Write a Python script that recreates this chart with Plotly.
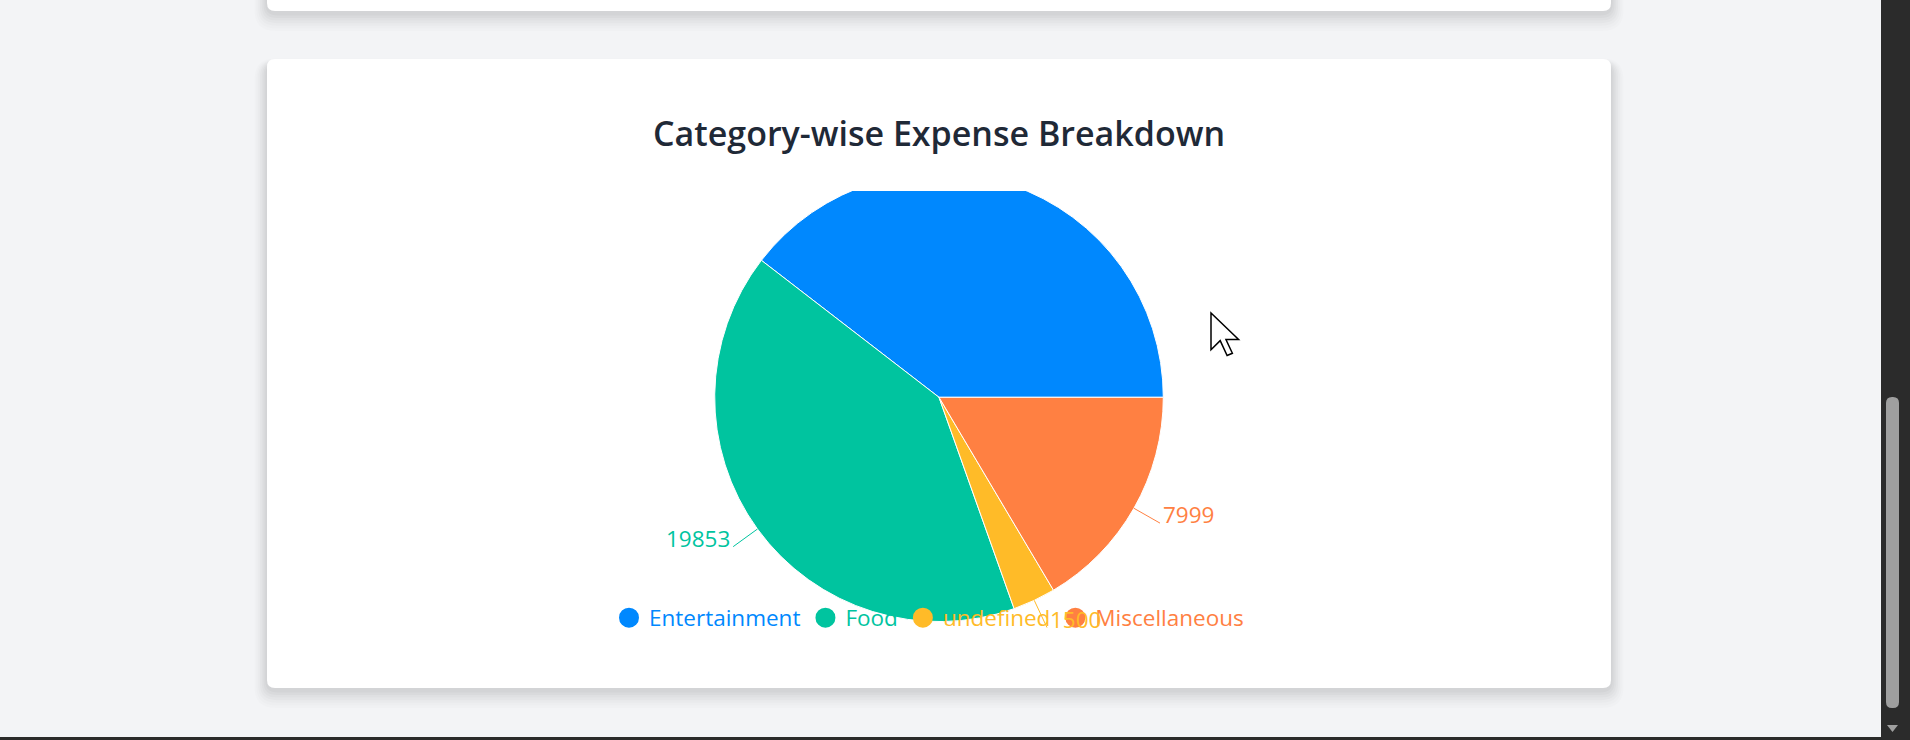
import math
import plotly.graph_objects as go

# ---------------- data ----------------
categories = ["Entertainment", "Food", "undefined", "Miscellaneous"]
amounts = [19200, 19853, 1500, 7999]
colors = ["#0088FE", "#00C49F", "#FFBB28", "#FF8042"]
title_text = "Category-wise Expense Breakdown"

# ---------------- layout constants (pixels) ----------------
W, H = 1910, 740
CX, CY, R = 939, 397.3, 224.3
CLIP_TOP = 191
LABEL_OFFSET = 30
FONT = "Open Sans, Noto Sans, sans-serif"
LABEL_FS = 22.5

fig = go.Figure()


def rrect(x0, y0, x1, y1, r):
    return (f"M {x0+r},{y0} L {x1-r},{y0} Q {x1},{y0} {x1},{y0+r} "
            f"L {x1},{y1-r} Q {x1},{y1} {x1-r},{y1} L {x0+r},{y1} "
            f"Q {x0},{y1} {x0},{y1-r} L {x0},{y0+r} Q {x0},{y0} {x0+r},{y0} Z")


shapes = []
# card shadows
for (x0, y0, x1, y1) in [(267, -30, 1611, 11), (267, 59, 1611, 688)]:
    for i, op in enumerate([0.010, 0.012, 0.015, 0.018, 0.02, 0.022, 0.025]):
        g = 18 - i * 2.6
        shapes.append(dict(type="path", path=rrect(x0 - g * 0.7, y0 - g * 0.3 + 5, x1 + g * 0.7, y1 + g + 2, 10 + g * 0.6),
                           xref="x", yref="y", fillcolor=f"rgba(0,0,0,{op})", line=dict(width=0), layer="below"))
    shapes.append(dict(type="path", path=rrect(x0, y0, x1, y1, 8), xref="x", yref="y",
                       fillcolor="#ffffff", line=dict(width=0), layer="below"))

# white cover clipping the top of the pie (chart svg edge)
shapes.append(dict(type="rect", x0=CX - R - 20, x1=CX + R + 20, y0=CY - R - 20, y1=CLIP_TOP,
                   xref="x", yref="y", fillcolor="#ffffff", line=dict(width=0), layer="above"))

# browser scrollbar & bottom border
shapes.append(dict(type="rect", x0=1881, x1=1910, y0=0, y1=740, xref="x", yref="y",
                   fillcolor="#2b2b2b", line=dict(width=0), layer="above"))
shapes.append(dict(type="path", path=rrect(1886, 397, 1899, 708, 6), xref="x", yref="y",
                   fillcolor="#9f9f9f", line=dict(width=0), layer="above"))
shapes.append(dict(type="path", path="M 1887,725 L 1898,725 L 1892.5,732 Z", xref="x", yref="y",
                   fillcolor="#9f9f9f", line=dict(width=0), layer="above"))
shapes.append(dict(type="rect", x0=0, x1=1910, y0=737, y1=740, xref="x", yref="y",
                   fillcolor="#2b2b2b", line=dict(width=0), layer="above"))

# mouse cursor
cur = [(0, 0), (0, 16), (4, 12), (7, 18.5), (9.3, 17.5), (6.5, 11.5), (12, 11.5)]
tx, ty, s = 1211, 313, 2.3
p = "M " + " L ".join(f"{tx + a * s},{ty + b * s}" for a, b in cur) + " Z"
shapes.append(dict(type="path", path=p, xref="x", yref="y", fillcolor="#ffffff",
                   line=dict(color="#000000", width=1.5), layer="above"))

# ---------------- pie ----------------
total = sum(amounts)
# recharts: first slice starts at 3 o'clock, slices run counter-clockwise
rotation = 90 - amounts[0] / total * 360
fig.add_trace(go.Pie(
    labels=categories, values=amounts, sort=False, direction="counterclockwise", rotation=rotation,
    marker=dict(colors=colors, line=dict(color="#ffffff", width=1)),
    textinfo="none", hoverinfo="label+value", showlegend=False,
    domain=dict(x=[(CX - R) / W, (CX + R) / W], y=[1 - (CY + R) / H, 1 - (CY - R) / H]),
))

# labels with leader lines (recharts-style, computed from values)
annotations = []
cum = 0
for cat, val, col in zip(categories, amounts, colors):
    a0 = cum / total * 360
    cum += val
    a1 = cum / total * 360
    mid = math.radians((a0 + a1) / 2)
    sx, sy = CX + R * math.cos(mid), CY - R * math.sin(mid)
    ex, ey = CX + (R + LABEL_OFFSET) * math.cos(mid), CY - (R + LABEL_OFFSET) * math.sin(mid)
    if ey < CLIP_TOP:
        continue
    shapes.append(dict(type="line", x0=sx, y0=sy, x1=ex, y1=ey, xref="x", yref="y",
                       line=dict(color=col, width=1)))
    right = math.cos(mid) >= 0
    annotations.append(dict(x=ex + (1 if right else -1), y=ey - 0.37 * LABEL_FS, xref="x", yref="y",
                            text=str(val), showarrow=False, xanchor="left" if right else "right",
                            yanchor="middle", font=dict(family=FONT, size=LABEL_FS, color=col)))

# title
annotations.append(dict(x=CX, y=133, xref="x", yref="y", text=title_text, showarrow=False,
                        xanchor="center", yanchor="middle",
                        font=dict(family=FONT, size=34, color="#1f2937", weight=600)))

# legend entries (circle icons, coloured text)
for cat, col in zip(categories, colors):
    fig.add_trace(go.Scatter(x=[None], y=[None], mode="markers", name=f'<span style="color:{col}">{cat}</span>',
                             marker=dict(color=col, size=18, symbol="circle", line=dict(color=col, width=4)),
                             showlegend=True))

fig.update_layout(
    width=W, height=H, margin=dict(l=0, r=0, t=0, b=0),
    paper_bgcolor="#f3f4f6", plot_bgcolor="rgba(0,0,0,0)",
    xaxis=dict(range=[0, W], visible=False, fixedrange=True, domain=[0, 1]),
    yaxis=dict(range=[H, 0], visible=False, fixedrange=True, domain=[0, 1]),
    shapes=shapes, annotations=annotations,
    legend=dict(orientation="h", x=(CX - 10) / W, xanchor="center", y=1 - 618 / H, yanchor="middle",
                font=dict(family=FONT, size=LABEL_FS, color="#333"), itemsizing="trace",
                bgcolor="rgba(0,0,0,0)", traceorder="normal"),
    showlegend=True,
)

fig.write_html("out.html")
